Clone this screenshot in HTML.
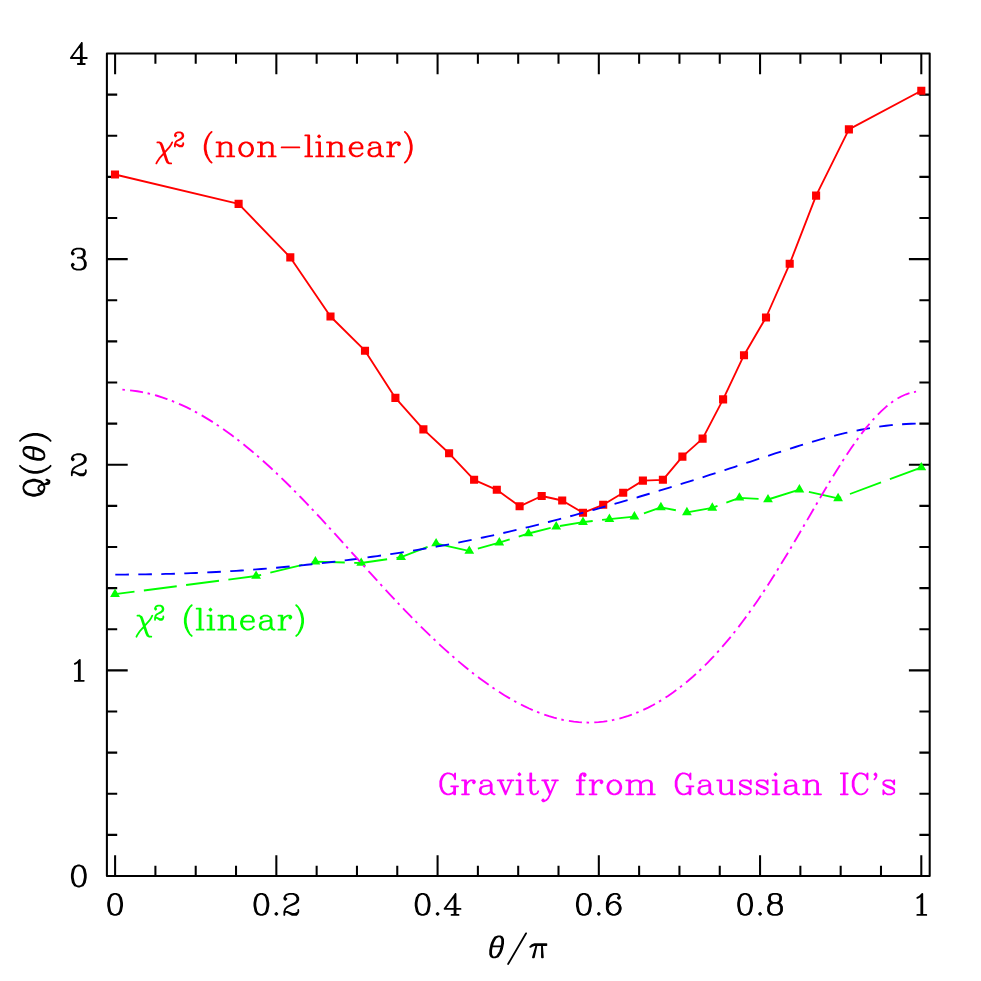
<!DOCTYPE html>
<html lang="en"><head><meta charset="utf-8"><title>Q(θ) versus θ/π</title>
<style>html,body{margin:0;padding:0;background:#fff;font-family:"Liberation Serif",serif}svg{display:block}.ax{stroke:#000;stroke-width:2.05;fill:none;stroke-linecap:butt;stroke-linejoin:miter}.t{fill:none;stroke-width:1.8;stroke-linecap:round;stroke-linejoin:round}.c{fill:none;stroke-width:1.85;stroke-linecap:round;stroke-linejoin:round}.d{fill:none;stroke-width:1.85;stroke-linecap:butt;stroke-linejoin:round}</style></head><body>
<svg width="981" height="981" viewBox="0 0 981 981" role="img" aria-label="Q(θ) versus θ/π">
<rect width="981" height="981" fill="#fff"/>
<rect class="ax" style="stroke-linejoin:round" x="106.9" y="53.5" width="822.8" height="822.5"/>
<path class="ax" d="M115.1 876v-20.8M115.1 53.5v20.8M155.41 876v-10.3M155.41 53.5v10.3M195.72 876v-10.3M195.72 53.5v10.3M236.03 876v-10.3M236.03 53.5v10.3M276.34 876v-20.8M276.34 53.5v20.8M316.65 876v-10.3M316.65 53.5v10.3M356.96 876v-10.3M356.96 53.5v10.3M397.27 876v-10.3M397.27 53.5v10.3M437.58 876v-20.8M437.58 53.5v20.8M477.89 876v-10.3M477.89 53.5v10.3M518.2 876v-10.3M518.2 53.5v10.3M558.51 876v-10.3M558.51 53.5v10.3M598.82 876v-20.8M598.82 53.5v20.8M639.13 876v-10.3M639.13 53.5v10.3M679.44 876v-10.3M679.44 53.5v10.3M719.75 876v-10.3M719.75 53.5v10.3M760.06 876v-20.8M760.06 53.5v20.8M800.37 876v-10.3M800.37 53.5v10.3M840.68 876v-10.3M840.68 53.5v10.3M880.99 876v-10.3M880.99 53.5v10.3M921.3 876v-20.8M921.3 53.5v20.8M106.9 834.88h10.3M929.7 834.88h-10.3M106.9 793.75h10.3M929.7 793.75h-10.3M106.9 752.62h10.3M929.7 752.62h-10.3M106.9 711.5h10.3M929.7 711.5h-10.3M106.9 670.38h20.8M929.7 670.38h-20.8M106.9 629.25h10.3M929.7 629.25h-10.3M106.9 588.12h10.3M929.7 588.12h-10.3M106.9 547h10.3M929.7 547h-10.3M106.9 505.88h10.3M929.7 505.88h-10.3M106.9 464.75h20.8M929.7 464.75h-20.8M106.9 423.62h10.3M929.7 423.62h-10.3M106.9 382.5h10.3M929.7 382.5h-10.3M106.9 341.38h10.3M929.7 341.38h-10.3M106.9 300.25h10.3M929.7 300.25h-10.3M106.9 259.12h20.8M929.7 259.12h-20.8M106.9 218h10.3M929.7 218h-10.3M106.9 176.87h10.3M929.7 176.87h-10.3M106.9 135.75h10.3M929.7 135.75h-10.3M106.9 94.62h10.3M929.7 94.62h-10.3"/>
<path class="c" stroke="#f00" d="M115 174.5L238.6 203.9L290.3 257.4L330.5 316.5L365 350.7L395.4 397.9L423.4 429.4L449.1 453.3L474.1 479.8L496.8 489.8L519.6 506.3L541.7 496L562.2 500.5L583 512.8L603.2 504.8L623.2 492.8L642.9 480.6L662.9 479.8L682.4 456.6L702.6 438.6L723.1 399.4L744 355.2L766 317.5L789.7 263.8L816.1 195.6L848.9 129.4L921.3 90.7"/>
<path fill="#f00" d="M110.95 170.45h8.1v8.1h-8.1zM234.55 199.85h8.1v8.1h-8.1zM286.25 253.35h8.1v8.1h-8.1zM326.45 312.45h8.1v8.1h-8.1zM360.95 346.65h8.1v8.1h-8.1zM391.35 393.85h8.1v8.1h-8.1zM419.35 425.35h8.1v8.1h-8.1zM445.05 449.25h8.1v8.1h-8.1zM470.05 475.75h8.1v8.1h-8.1zM492.75 485.75h8.1v8.1h-8.1zM515.55 502.25h8.1v8.1h-8.1zM537.65 491.95h8.1v8.1h-8.1zM558.15 496.45h8.1v8.1h-8.1zM578.95 508.75h8.1v8.1h-8.1zM599.15 500.75h8.1v8.1h-8.1zM619.15 488.75h8.1v8.1h-8.1zM638.85 476.55h8.1v8.1h-8.1zM658.85 475.75h8.1v8.1h-8.1zM678.35 452.55h8.1v8.1h-8.1zM698.55 434.55h8.1v8.1h-8.1zM719.05 395.35h8.1v8.1h-8.1zM739.95 351.15h8.1v8.1h-8.1zM761.95 313.45h8.1v8.1h-8.1zM785.65 259.75h8.1v8.1h-8.1zM812.05 191.55h8.1v8.1h-8.1zM844.85 125.35h8.1v8.1h-8.1zM917.25 86.65h8.1v8.1h-8.1z"/>
<path class="d" stroke="#0f0" stroke-dasharray="33.15 9.45" stroke-dashoffset="13.5" d="M115 594.2L256.1 576L315.4 561.7L361.2 563L401.1 557.2L436.1 543.5L469.3 551L499.3 542.7L528.5 533.5L556.2 526.6L583 522.1L609.4 519.1L634.4 516.6L660.9 507.4L686.9 512.4L712.3 507.9L739.4 497.8L768 499.5L799.4 489.7L838.1 498.4L921.3 467.5"/>
<path fill="#0f0" d="M115 588.6l4.9 8.4h-9.8zM256.1 570.4l4.9 8.4h-9.8zM315.4 556.1l4.9 8.4h-9.8zM361.2 557.4l4.9 8.4h-9.8zM401.1 551.6l4.9 8.4h-9.8zM436.1 537.9l4.9 8.4h-9.8zM469.3 545.4l4.9 8.4h-9.8zM499.3 537.1l4.9 8.4h-9.8zM528.5 527.9l4.9 8.4h-9.8zM556.2 521l4.9 8.4h-9.8zM583 516.5l4.9 8.4h-9.8zM609.4 513.5l4.9 8.4h-9.8zM634.4 511l4.9 8.4h-9.8zM660.9 501.8l4.9 8.4h-9.8zM686.9 506.8l4.9 8.4h-9.8zM712.3 502.3l4.9 8.4h-9.8zM739.4 492.2l4.9 8.4h-9.8zM768 493.9l4.9 8.4h-9.8zM799.4 484.1l4.9 8.4h-9.8zM838.1 492.8l4.9 8.4h-9.8zM921.3 461.9l4.9 8.4h-9.8z"/>
<path class="d" stroke="#00f" stroke-dasharray="13.6 9.4" d="M115.3 574.57L120.34 574.57L125.38 574.55L130.41 574.52L135.45 574.48L140.49 574.42L145.53 574.35L150.56 574.27L155.6 574.18L160.64 574.07L165.68 573.95L170.71 573.82L175.75 573.68L180.79 573.52L185.83 573.34L190.86 573.16L195.9 572.96L200.94 572.74L205.98 572.51L211.01 572.26L216.05 572L221.09 571.73L226.13 571.44L231.16 571.14L236.2 570.82L241.24 570.48L246.28 570.13L251.31 569.76L256.35 569.38L261.39 568.99L266.43 568.58L271.46 568.15L276.5 567.71L281.54 567.26L286.58 566.79L291.61 566.31L296.65 565.81L301.69 565.3L306.73 564.78L311.76 564.24L316.8 563.69L321.84 563.13L326.88 562.55L331.91 561.96L336.95 561.36L341.99 560.74L347.03 560.12L352.06 559.47L357.1 558.82L362.14 558.15L367.18 557.47L372.21 556.78L377.25 556.07L382.29 555.35L387.33 554.61L392.36 553.86L397.4 553.09L402.44 552.31L407.48 551.52L412.51 550.71L417.55 549.88L422.59 549.03L427.63 548.17L432.66 547.29L437.7 546.39L442.74 545.48L447.78 544.55L452.81 543.59L457.85 542.62L462.89 541.64L467.93 540.63L472.96 539.6L478 538.55L483.04 537.49L488.08 536.4L493.11 535.3L498.15 534.17L503.19 533.03L508.23 531.87L513.26 530.69L518.3 529.5L523.34 528.28L528.38 527.06L533.41 525.81L538.45 524.55L543.49 523.27L548.53 521.98L553.56 520.67L558.6 519.35L563.64 518.02L568.68 516.68L573.71 515.32L578.75 513.95L583.79 512.57L588.83 511.18L593.86 509.78L598.9 508.37L603.94 506.95L608.98 505.52L614.01 504.08L619.05 502.64L624.09 501.18L629.13 499.71L634.16 498.24L639.2 496.76L644.24 495.26L649.28 493.76L654.31 492.25L659.35 490.73L664.39 489.2L669.43 487.66L674.46 486.11L679.5 484.55L684.54 482.98L689.58 481.4L694.61 479.81L699.65 478.21L704.69 476.6L709.73 474.98L714.76 473.35L719.8 471.71L724.84 470.07L729.88 468.41L734.91 466.76L739.95 465.09L744.99 463.43L750.03 461.76L755.06 460.09L760.1 458.42L765.14 456.76L770.18 455.1L775.21 453.45L780.25 451.81L785.29 450.19L790.33 448.58L795.36 447L800.4 445.43L805.44 443.89L810.48 442.39L815.51 440.91L820.55 439.47L825.59 438.08L830.63 436.72L835.66 435.42L840.7 434.16L845.74 432.96L850.78 431.82L855.81 430.74L860.85 429.73L865.89 428.79L870.93 427.91L875.96 427.11L881 426.39L886.04 425.75L891.08 425.18L896.11 424.7L901.15 424.31L906.19 424L911.23 423.78L916.26 423.65L921.3 423.6"/>
<path class="d" stroke="#f0f" stroke-dasharray="13.1 4.67 2.5 5.19" stroke-dashoffset="17.77" d="M122.4 389.68L127.36 390.03L132.32 390.55L137.28 391.25L142.24 392.12L147.2 393.16L152.16 394.37L157.12 395.75L162.08 397.3L167.04 399.01L172 400.88L176.96 402.92L181.92 405.11L186.88 407.45L191.84 409.95L196.8 412.6L201.76 415.39L206.72 418.33L211.68 421.4L216.64 424.62L221.6 427.97L226.56 431.46L231.52 435.07L236.49 438.81L241.45 442.68L246.41 446.66L251.37 450.77L256.33 454.99L261.29 459.32L266.25 463.76L271.21 468.3L276.17 472.95L281.13 477.69L286.09 482.52L291.05 487.44L296.01 492.44L300.97 497.52L305.93 502.67L310.89 507.89L315.85 513.16L320.81 518.49L325.77 523.87L330.73 529.28L335.69 534.73L340.65 540.21L345.61 545.7L350.57 551.21L355.53 556.72L360.5 562.23L365.46 567.73L370.42 573.21L375.38 578.67L380.34 584.1L385.3 589.5L390.26 594.85L395.22 600.15L400.18 605.4L405.14 610.59L410.1 615.71L415.06 620.76L420.02 625.74L424.98 630.64L429.94 635.46L434.9 640.19L439.86 644.82L444.82 649.37L449.78 653.81L454.74 658.15L459.7 662.39L464.66 666.52L469.62 670.53L474.58 674.43L479.54 678.21L484.51 681.86L489.47 685.39L494.43 688.78L499.39 692.04L504.35 695.16L509.31 698.13L514.27 700.96L519.23 703.63L524.19 706.15L529.15 708.5L534.11 710.68L539.07 712.7L544.03 714.53L548.99 716.19L553.95 717.67L558.91 718.95L563.87 720.05L568.83 720.95L573.79 721.65L578.75 722.15L583.71 722.45L588.67 722.55L593.63 722.44L598.59 722.13L603.55 721.61L608.52 720.88L613.48 719.94L618.44 718.8L623.4 717.44L628.36 715.88L633.32 714.11L638.28 712.14L643.24 709.96L648.2 707.57L653.16 704.98L658.12 702.18L663.08 699.17L668.04 695.96L673 692.54L677.96 688.91L682.92 685.06L687.88 681.01L692.84 676.74L697.8 672.25L702.76 667.54L707.72 662.61L712.68 657.46L717.64 652.08L722.6 646.48L727.56 640.65L732.52 634.59L737.49 628.31L742.45 621.8L747.41 615.07L752.37 608.12L757.33 600.96L762.29 593.6L767.25 586.05L772.21 578.31L777.17 570.41L782.13 562.35L787.09 554.17L792.05 545.86L797.01 537.47L801.97 529.01L806.93 520.51L811.89 512L816.85 503.51L821.81 495.08L826.77 486.73L831.73 478.5L836.69 470.43L841.65 462.56L846.61 454.92L851.57 447.55L856.53 440.49L861.5 433.77L866.46 427.44L871.42 421.53L876.38 416.06L881.34 411.07L886.3 406.59L891.26 402.65L896.22 399.27L901.18 396.47L906.14 394.26L911.1 392.67L916.06 391.69"/>
<g transform="translate(115.1 905.9)" aria-label="0"><title>0</title><path class="t" stroke="#000" d="M-1 -11.98L-3.99 -10.98L-5.99 -7.98L-6.99 -2.99L-6.99 0L-5.99 4.99L-3.99 7.98L-1 8.98L1 8.98L3.99 7.98L5.99 4.99L6.99 0L6.99 -2.99L5.99 -7.98L3.99 -10.98L1 -11.98L-1 -11.98M-1 -11.98L-2.99 -10.98L-3.99 -9.98L-4.99 -7.98L-5.99 -2.99L-5.99 0L-4.99 4.99L-3.99 6.99L-2.99 7.98L-1 8.98M1 8.98L2.99 7.98L3.99 6.99L4.99 4.99L5.99 0L5.99 -2.99L4.99 -7.98L3.99 -9.98L2.99 -10.98L1 -11.98"/></g>
<g transform="translate(276.34 905.9)" aria-label="0.2"><title>0.2</title><path class="t" stroke="#000" d="M-15.97 -11.98L-18.96 -10.98L-20.96 -7.98L-21.96 -2.99L-21.96 0L-20.96 4.99L-18.96 7.98L-15.97 8.98L-13.97 8.98L-10.98 7.98L-8.98 4.99L-7.98 0L-7.98 -2.99L-8.98 -7.98L-10.98 -10.98L-13.97 -11.98L-15.97 -11.98M-15.97 -11.98L-17.96 -10.98L-18.96 -9.98L-19.96 -7.98L-20.96 -2.99L-20.96 0L-19.96 4.99L-18.96 6.99L-17.96 7.98L-15.97 8.98M-13.97 8.98L-11.98 7.98L-10.98 6.99L-9.98 4.99L-8.98 0L-8.98 -2.99L-9.98 -7.98L-10.98 -9.98L-11.98 -10.98L-13.97 -11.98M0 6.99L-1 7.98L0 8.98L1 7.98L0 6.99M8.98 -7.98L9.98 -6.99L8.98 -5.99L7.98 -6.99L7.98 -7.98L8.98 -9.98L9.98 -10.98L12.97 -11.98L16.97 -11.98L19.96 -10.98L20.96 -9.98L21.96 -7.98L21.96 -5.99L20.96 -3.99L17.96 -2L12.97 0L10.98 1L8.98 2.99L7.98 5.99L7.98 8.98M16.97 -11.98L18.96 -10.98L19.96 -9.98L20.96 -7.98L20.96 -5.99L19.96 -3.99L16.97 -2L12.97 0M7.98 6.99L8.98 5.99L10.98 5.99L15.97 7.98L18.96 7.98L20.96 6.99L21.96 5.99M10.98 5.99L15.97 8.98L19.96 8.98L20.96 7.98L21.96 5.99L21.96 3.99"/></g>
<g transform="translate(437.58 905.9)" aria-label="0.4"><title>0.4</title><path class="t" stroke="#000" d="M-15.97 -11.98L-18.96 -10.98L-20.96 -7.98L-21.96 -2.99L-21.96 0L-20.96 4.99L-18.96 7.98L-15.97 8.98L-13.97 8.98L-10.98 7.98L-8.98 4.99L-7.98 0L-7.98 -2.99L-8.98 -7.98L-10.98 -10.98L-13.97 -11.98L-15.97 -11.98M-15.97 -11.98L-17.96 -10.98L-18.96 -9.98L-19.96 -7.98L-20.96 -2.99L-20.96 0L-19.96 4.99L-18.96 6.99L-17.96 7.98L-15.97 8.98M-13.97 8.98L-11.98 7.98L-10.98 6.99L-9.98 4.99L-8.98 0L-8.98 -2.99L-9.98 -7.98L-10.98 -9.98L-11.98 -10.98L-13.97 -11.98M0 6.99L-1 7.98L0 8.98L1 7.98L0 6.99M16.97 -9.98L16.97 8.98M17.96 -11.98L17.96 8.98M17.96 -11.98L6.99 2.99L22.95 2.99M13.97 8.98L20.96 8.98"/></g>
<g transform="translate(598.82 905.9)" aria-label="0.6"><title>0.6</title><path class="t" stroke="#000" d="M-15.97 -11.98L-18.96 -10.98L-20.96 -7.98L-21.96 -2.99L-21.96 0L-20.96 4.99L-18.96 7.98L-15.97 8.98L-13.97 8.98L-10.98 7.98L-8.98 4.99L-7.98 0L-7.98 -2.99L-8.98 -7.98L-10.98 -10.98L-13.97 -11.98L-15.97 -11.98M-15.97 -11.98L-17.96 -10.98L-18.96 -9.98L-19.96 -7.98L-20.96 -2.99L-20.96 0L-19.96 4.99L-18.96 6.99L-17.96 7.98L-15.97 8.98M-13.97 8.98L-11.98 7.98L-10.98 6.99L-9.98 4.99L-8.98 0L-8.98 -2.99L-9.98 -7.98L-10.98 -9.98L-11.98 -10.98L-13.97 -11.98M0 6.99L-1 7.98L0 8.98L1 7.98L0 6.99M19.96 -8.98L18.96 -7.98L19.96 -6.99L20.96 -7.98L20.96 -8.98L19.96 -10.98L17.96 -11.98L14.97 -11.98L11.98 -10.98L9.98 -8.98L8.98 -6.99L7.98 -2.99L7.98 2.99L8.98 5.99L10.98 7.98L13.97 8.98L15.97 8.98L18.96 7.98L20.96 5.99L21.96 2.99L21.96 2L20.96 -1L18.96 -2.99L15.97 -3.99L14.97 -3.99L11.98 -2.99L9.98 -1L8.98 2M14.97 -11.98L12.97 -10.98L10.98 -8.98L9.98 -6.99L8.98 -2.99L8.98 2.99L9.98 5.99L11.98 7.98L13.97 8.98M15.97 8.98L17.96 7.98L19.96 5.99L20.96 2.99L20.96 2L19.96 -1L17.96 -2.99L15.97 -3.99"/></g>
<g transform="translate(760.06 905.9)" aria-label="0.8"><title>0.8</title><path class="t" stroke="#000" d="M-15.97 -11.98L-18.96 -10.98L-20.96 -7.98L-21.96 -2.99L-21.96 0L-20.96 4.99L-18.96 7.98L-15.97 8.98L-13.97 8.98L-10.98 7.98L-8.98 4.99L-7.98 0L-7.98 -2.99L-8.98 -7.98L-10.98 -10.98L-13.97 -11.98L-15.97 -11.98M-15.97 -11.98L-17.96 -10.98L-18.96 -9.98L-19.96 -7.98L-20.96 -2.99L-20.96 0L-19.96 4.99L-18.96 6.99L-17.96 7.98L-15.97 8.98M-13.97 8.98L-11.98 7.98L-10.98 6.99L-9.98 4.99L-8.98 0L-8.98 -2.99L-9.98 -7.98L-10.98 -9.98L-11.98 -10.98L-13.97 -11.98M0 6.99L-1 7.98L0 8.98L1 7.98L0 6.99M12.97 -11.98L9.98 -10.98L8.98 -8.98L8.98 -5.99L9.98 -3.99L12.97 -2.99L16.97 -2.99L19.96 -3.99L20.96 -5.99L20.96 -8.98L19.96 -10.98L16.97 -11.98L12.97 -11.98M12.97 -11.98L10.98 -10.98L9.98 -8.98L9.98 -5.99L10.98 -3.99L12.97 -2.99M16.97 -2.99L18.96 -3.99L19.96 -5.99L19.96 -8.98L18.96 -10.98L16.97 -11.98M12.97 -2.99L9.98 -2L8.98 -1L7.98 1L7.98 4.99L8.98 6.99L9.98 7.98L12.97 8.98L16.97 8.98L19.96 7.98L20.96 6.99L21.96 4.99L21.96 1L20.96 -1L19.96 -2L16.97 -2.99M12.97 -2.99L10.98 -2L9.98 -1L8.98 1L8.98 4.99L9.98 6.99L10.98 7.98L12.97 8.98M16.97 8.98L18.96 7.98L19.96 6.99L20.96 4.99L20.96 1L19.96 -1L18.96 -2L16.97 -2.99"/></g>
<g transform="translate(921.3 905.9)" aria-label="1"><title>1</title><path class="t" stroke="#000" d="M-3.99 -7.98L-2 -8.98L1 -11.98L1 8.98M0 -10.98L0 8.98M-3.99 8.98L4.99 8.98"/></g>
<g transform="translate(88.8 877.5)" aria-label="0"><title>0</title><path class="t" stroke="#000" d="M-10.98 -11.98L-13.97 -10.98L-15.97 -7.98L-16.97 -2.99L-16.97 0L-15.97 4.99L-13.97 7.98L-10.98 8.98L-8.98 8.98L-5.99 7.98L-3.99 4.99L-2.99 0L-2.99 -2.99L-3.99 -7.98L-5.99 -10.98L-8.98 -11.98L-10.98 -11.98M-10.98 -11.98L-12.97 -10.98L-13.97 -9.98L-14.97 -7.98L-15.97 -2.99L-15.97 0L-14.97 4.99L-13.97 6.99L-12.97 7.98L-10.98 8.98M-8.98 8.98L-6.99 7.98L-5.99 6.99L-4.99 4.99L-3.99 0L-3.99 -2.99L-4.99 -7.98L-5.99 -9.98L-6.99 -10.98L-8.98 -11.98"/></g>
<g transform="translate(88.8 671.88)" aria-label="1"><title>1</title><path class="t" stroke="#000" d="M-13.97 -7.98L-11.98 -8.98L-8.98 -11.98L-8.98 8.98M-9.98 -10.98L-9.98 8.98M-13.97 8.98L-4.99 8.98"/></g>
<g transform="translate(88.8 466.25)" aria-label="2"><title>2</title><path class="t" stroke="#000" d="M-15.97 -7.98L-14.97 -6.99L-15.97 -5.99L-16.97 -6.99L-16.97 -7.98L-15.97 -9.98L-14.97 -10.98L-11.98 -11.98L-7.98 -11.98L-4.99 -10.98L-3.99 -9.98L-2.99 -7.98L-2.99 -5.99L-3.99 -3.99L-6.99 -2L-11.98 0L-13.97 1L-15.97 2.99L-16.97 5.99L-16.97 8.98M-7.98 -11.98L-5.99 -10.98L-4.99 -9.98L-3.99 -7.98L-3.99 -5.99L-4.99 -3.99L-7.98 -2L-11.98 0M-16.97 6.99L-15.97 5.99L-13.97 5.99L-8.98 7.98L-5.99 7.98L-3.99 6.99L-2.99 5.99M-13.97 5.99L-8.98 8.98L-4.99 8.98L-3.99 7.98L-2.99 5.99L-2.99 3.99"/></g>
<g transform="translate(88.8 260.62)" aria-label="3"><title>3</title><path class="t" stroke="#000" d="M-15.97 -7.98L-14.97 -6.99L-15.97 -5.99L-16.97 -6.99L-16.97 -7.98L-15.97 -9.98L-14.97 -10.98L-11.98 -11.98L-7.98 -11.98L-4.99 -10.98L-3.99 -8.98L-3.99 -5.99L-4.99 -3.99L-7.98 -2.99L-10.98 -2.99M-7.98 -11.98L-5.99 -10.98L-4.99 -8.98L-4.99 -5.99L-5.99 -3.99L-7.98 -2.99M-7.98 -2.99L-5.99 -2L-3.99 0L-2.99 2L-2.99 4.99L-3.99 6.99L-4.99 7.98L-7.98 8.98L-11.98 8.98L-14.97 7.98L-15.97 6.99L-16.97 4.99L-16.97 3.99L-15.97 2.99L-14.97 3.99L-15.97 4.99M-4.99 -1L-3.99 2L-3.99 4.99L-4.99 6.99L-5.99 7.98L-7.98 8.98"/></g>
<g transform="translate(88.8 55)" aria-label="4"><title>4</title><path class="t" stroke="#000" d="M-7.98 -9.98L-7.98 8.98M-6.99 -11.98L-6.99 8.98M-6.99 -11.98L-17.96 2.99L-2 2.99M-10.98 8.98L-3.99 8.98"/></g>
<g transform="translate(518.6 948.35)" aria-label="θ/π"><title>θ/π</title><path class="t" stroke="#000" d="M-20.46 -11.98L-23.45 -10.98L-25.45 -7.98L-26.45 -5.99L-27.45 -2.99L-28.44 2L-28.44 5.99L-27.45 7.98L-25.45 8.98L-23.45 8.98L-20.46 7.98L-18.46 4.99L-17.46 2.99L-16.47 0L-15.47 -4.99L-15.47 -8.98L-16.47 -10.98L-18.46 -11.98L-20.46 -11.98M-20.46 -11.98L-22.45 -10.98L-24.45 -7.98L-25.45 -5.99L-26.45 -2.99L-27.45 2L-27.45 5.99L-26.45 7.98L-25.45 8.98M-23.45 8.98L-21.46 7.98L-19.46 4.99L-18.46 2.99L-17.46 0L-16.47 -4.99L-16.47 -8.98L-17.46 -10.98L-18.46 -11.98M-26.45 -2L-17.46 -2M7.49 -15.03L-10.48 15.63M17.96 -3.34L14.37 8.98M17.96 -3.34L15.27 8.98M23.35 -3.34L23.35 8.98M23.35 -3.34L24.25 8.98M11.68 -1.45L13.47 -3.34L16.17 -4.29L27.84 -4.29M11.68 -1.45L13.47 -2.4L16.17 -3.34L27.84 -3.34"/></g>
<g transform="translate(35.4 464.3) rotate(-90)" aria-label="Q(θ)"><title>Q(θ)</title><path class="t" stroke="#000" d="M-24.45 -11.98L-27.45 -10.98L-29.44 -8.98L-30.44 -6.99L-31.44 -2.99L-31.44 0L-30.44 3.99L-29.44 5.99L-27.45 7.98L-24.45 8.98L-22.45 8.98L-19.46 7.98L-17.46 5.99L-16.47 3.99L-15.47 0L-15.47 -2.99L-16.47 -6.99L-17.46 -8.98L-19.46 -10.98L-22.45 -11.98L-24.45 -11.98M-24.45 -11.98L-26.45 -10.98L-28.44 -8.98L-29.44 -6.99L-30.44 -2.99L-30.44 0L-29.44 3.99L-28.44 5.99L-26.45 7.98L-24.45 8.98M-22.45 8.98L-20.46 7.98L-18.46 5.99L-17.46 3.99L-16.47 0L-16.47 -2.99L-17.46 -6.99L-18.46 -8.98L-20.46 -10.98L-22.45 -11.98M-27.45 6.99L-27.45 5.99L-26.45 3.99L-24.45 2.99L-23.45 2.99L-21.46 3.99L-20.46 5.99L-19.46 12.97L-18.46 13.97L-16.47 13.97L-15.47 11.98L-15.47 10.98M-20.46 5.99L-19.46 9.98L-18.46 11.98L-17.46 12.97L-16.47 12.97L-15.47 11.98M-1.5 -15.43L-3.49 -13.51L-5.49 -10.64L-7.49 -6.81L-8.48 -2.02L-8.48 1.82L-7.49 6.61L-5.49 10.44L-3.49 13.31L-1.5 15.23M-3.49 -13.51L-5.49 -9.68L-6.49 -6.81L-7.49 -2.02L-7.49 1.82L-6.49 6.61L-5.49 9.48L-3.49 13.31M12.47 -11.98L9.48 -10.98L7.49 -7.98L6.49 -5.99L5.49 -2.99L4.49 2L4.49 5.99L5.49 7.98L7.49 8.98L9.48 8.98L12.47 7.98L14.47 4.99L15.47 2.99L16.47 0L17.46 -4.99L17.46 -8.98L16.47 -10.98L14.47 -11.98L12.47 -11.98M12.47 -11.98L10.48 -10.98L8.48 -7.98L7.49 -5.99L6.49 -2.99L5.49 2L5.49 5.99L6.49 7.98L7.49 8.98M9.48 8.98L11.48 7.98L13.47 4.99L14.47 2.99L15.47 0L16.47 -4.99L16.47 -8.98L15.47 -10.98L14.47 -11.98M6.49 -2L15.47 -2M23.45 -15.43L25.45 -13.51L27.45 -10.64L29.44 -6.81L30.44 -2.02L30.44 1.82L29.44 6.61L27.45 10.44L25.45 13.31L23.45 15.23M25.45 -13.51L27.45 -9.68L28.44 -6.81L29.44 -2.02L29.44 1.82L28.44 6.61L27.45 9.48L25.45 13.31"/></g>
<g transform="translate(155.4 147.4)" aria-label="χ² (non−linear)"><title>χ² (non−linear)</title><path class="t" stroke="#f00" d="M1.97 -5L3.94 -5L5.92 -4L6.9 -2L11.83 13L12.82 15L13.8 16M3.94 -5L4.93 -4L5.92 -2L10.85 13L11.83 15L13.8 16L15.78 16M16.76 -5L15.78 -3L13.8 0L3.94 11L1.97 14L0.99 16M20.11 -12.37L20.71 -11.7L20.11 -11.02L19.52 -11.7L19.52 -12.37L20.11 -13.71L20.71 -14.38L22.48 -15.06L24.85 -15.06L26.62 -14.38L27.21 -13.71L27.81 -12.37L27.81 -11.02L27.21 -9.68L25.44 -8.34L22.48 -6.99L21.3 -6.32L20.11 -4.98L19.52 -2.96L19.52 -0.94M24.85 -15.06L26.03 -14.38L26.62 -13.71L27.21 -12.37L27.21 -11.02L26.62 -9.68L24.85 -8.34L22.48 -6.99M19.52 -2.29L20.11 -2.96L21.3 -2.96L24.26 -1.62L26.03 -1.62L27.21 -2.29L27.81 -2.96M21.3 -2.96L24.26 -0.94L26.62 -0.94L27.21 -1.62L27.81 -2.96L27.81 -4.3M56.2 -15.46L54.23 -13.54L52.26 -10.66L50.29 -6.82L49.3 -2.02L49.3 1.82L50.29 6.62L52.26 10.46L54.23 13.34L56.2 15.26M54.23 -13.54L52.26 -9.7L51.27 -6.82L50.29 -2.02L50.29 1.82L51.27 6.62L52.26 9.5L54.23 13.34M64.09 -5L64.09 9M65.08 -5L65.08 9M65.08 -2L67.05 -4L70.01 -5L71.98 -5L74.94 -4L75.92 -2L75.92 9M71.98 -5L73.95 -4L74.94 -2L74.94 9M61.13 -5L65.08 -5M61.13 9L68.03 9M71.98 9L78.88 9M89.73 -5L86.77 -4L84.8 -2L83.81 1L83.81 3L84.8 6L86.77 8L89.73 9L91.7 9L94.66 8L96.63 6L97.61 3L97.61 1L96.63 -2L94.66 -4L91.7 -5L89.73 -5M89.73 -5L87.75 -4L85.78 -2L84.8 1L84.8 3L85.78 6L87.75 8L89.73 9M91.7 9L93.67 8L95.64 6L96.63 3L96.63 1L95.64 -2L93.67 -4L91.7 -5M105.5 -5L105.5 9M106.49 -5L106.49 9M106.49 -2L108.46 -4L111.42 -5L113.39 -5L116.35 -4L117.33 -2L117.33 9M113.39 -5L115.36 -4L116.35 -2L116.35 9M102.54 -5L106.49 -5M102.54 9L109.45 9M113.39 9L120.29 9M126.21 0L143.96 0M152.83 -12L152.83 9M153.82 -12L153.82 9M149.87 -12L153.82 -12M149.87 9L156.77 9M163.68 -12L162.69 -11L163.68 -10L164.66 -11L163.68 -12M163.68 -5L163.68 9M164.66 -5L164.66 9M160.72 -5L164.66 -5M160.72 9L167.62 9M174.52 -5L174.52 9M175.51 -5L175.51 9M175.51 -2L177.48 -4L180.44 -5L182.41 -5L185.37 -4L186.35 -2L186.35 9M182.41 -5L184.38 -4L185.37 -2L185.37 9M171.56 -5L175.51 -5M171.56 9L178.47 9M182.41 9L189.31 9M195.23 1L207.06 1L207.06 -1L206.07 -3L205.09 -4L203.12 -5L200.16 -5L197.2 -4L195.23 -2L194.24 1L194.24 3L195.23 6L197.2 8L200.16 9L202.13 9L205.09 8L207.06 6M206.07 1L206.07 -2L205.09 -4M200.16 -5L198.19 -4L196.21 -2L195.23 1L195.23 3L196.21 6L198.19 8L200.16 9M214.95 -3L214.95 -2L213.96 -2L213.96 -3L214.95 -4L216.92 -5L220.86 -5L222.84 -4L223.82 -3L224.81 -1L224.81 6L225.79 8L226.78 9M223.82 -3L223.82 6L224.81 8L226.78 9L227.77 9M223.82 -1L222.84 0L216.92 1L213.96 2L212.98 4L212.98 6L213.96 8L216.92 9L219.88 9L221.85 8L223.82 6M216.92 1L214.95 2L213.96 4L213.96 6L214.95 8L216.92 9M234.67 -5L234.67 9M235.65 -5L235.65 9M235.65 1L236.64 -2L238.61 -4L240.58 -5L243.54 -5L244.53 -4L244.53 -3L243.54 -2L242.56 -3L243.54 -4M231.71 -5L235.65 -5M231.71 9L238.61 9M249.46 -15.46L251.43 -13.54L253.4 -10.66L255.37 -6.82L256.36 -2.02L256.36 1.82L255.37 6.62L253.4 10.46L251.43 13.34L249.46 15.26M251.43 -13.54L253.4 -9.7L254.39 -6.82L255.37 -2.02L255.37 1.82L254.39 6.62L253.4 9.5L251.43 13.34"/></g>
<g transform="translate(135.5 620.7)" aria-label="χ² (linear)"><title>χ² (linear)</title><path class="t" stroke="#0f0" d="M1.97 -5L3.94 -5L5.92 -4L6.9 -2L11.83 13L12.82 15L13.8 16M3.94 -5L4.93 -4L5.92 -2L10.85 13L11.83 15L13.8 16L15.78 16M16.76 -5L15.78 -3L13.8 0L3.94 11L1.97 14L0.99 16M20.11 -12.37L20.71 -11.7L20.11 -11.02L19.52 -11.7L19.52 -12.37L20.11 -13.71L20.71 -14.38L22.48 -15.06L24.85 -15.06L26.62 -14.38L27.21 -13.71L27.81 -12.37L27.81 -11.02L27.21 -9.68L25.44 -8.34L22.48 -6.99L21.3 -6.32L20.11 -4.98L19.52 -2.96L19.52 -0.94M24.85 -15.06L26.03 -14.38L26.62 -13.71L27.21 -12.37L27.21 -11.02L26.62 -9.68L24.85 -8.34L22.48 -6.99M19.52 -2.29L20.11 -2.96L21.3 -2.96L24.26 -1.62L26.03 -1.62L27.21 -2.29L27.81 -2.96M21.3 -2.96L24.26 -0.94L26.62 -0.94L27.21 -1.62L27.81 -2.96L27.81 -4.3M56.2 -15.46L54.23 -13.54L52.26 -10.66L50.29 -6.82L49.3 -2.02L49.3 1.82L50.29 6.62L52.26 10.46L54.23 13.34L56.2 15.26M54.23 -13.54L52.26 -9.7L51.27 -6.82L50.29 -2.02L50.29 1.82L51.27 6.62L52.26 9.5L54.23 13.34M64.09 -12L64.09 9M65.08 -12L65.08 9M61.13 -12L65.08 -12M61.13 9L68.03 9M74.94 -12L73.95 -11L74.94 -10L75.92 -11L74.94 -12M74.94 -5L74.94 9M75.92 -5L75.92 9M71.98 -5L75.92 -5M71.98 9L78.88 9M85.78 -5L85.78 9M86.77 -5L86.77 9M86.77 -2L88.74 -4L91.7 -5L93.67 -5L96.63 -4L97.61 -2L97.61 9M93.67 -5L95.64 -4L96.63 -2L96.63 9M82.82 -5L86.77 -5M82.82 9L89.73 9M93.67 9L100.57 9M106.49 1L118.32 1L118.32 -1L117.33 -3L116.35 -4L114.38 -5L111.42 -5L108.46 -4L106.49 -2L105.5 1L105.5 3L106.49 6L108.46 8L111.42 9L113.39 9L116.35 8L118.32 6M117.33 1L117.33 -2L116.35 -4M111.42 -5L109.45 -4L107.47 -2L106.49 1L106.49 3L107.47 6L109.45 8L111.42 9M126.21 -3L126.21 -2L125.22 -2L125.22 -3L126.21 -4L128.18 -5L132.12 -5L134.1 -4L135.08 -3L136.07 -1L136.07 6L137.05 8L138.04 9M135.08 -3L135.08 6L136.07 8L138.04 9L139.03 9M135.08 -1L134.1 0L128.18 1L125.22 2L124.24 4L124.24 6L125.22 8L128.18 9L131.14 9L133.11 8L135.08 6M128.18 1L126.21 2L125.22 4L125.22 6L126.21 8L128.18 9M145.93 -5L145.93 9M146.91 -5L146.91 9M146.91 1L147.9 -2L149.87 -4L151.84 -5L154.8 -5L155.79 -4L155.79 -3L154.8 -2L153.82 -3L154.8 -4M142.97 -5L146.91 -5M142.97 9L149.87 9M160.72 -15.46L162.69 -13.54L164.66 -10.66L166.63 -6.82L167.62 -2.02L167.62 1.82L166.63 6.62L164.66 10.46L162.69 13.34L160.72 15.26M162.69 -13.54L164.66 -9.7L165.65 -6.82L166.63 -2.02L166.63 1.82L165.65 6.62L164.66 9.5L162.69 13.34"/></g>
<g transform="translate(437.3 785.3)" aria-label="Gravity from Gaussian IC's"><title>Gravity from Gaussian IC's</title><path class="t" stroke="#f0f" d="M16.81 -9L17.8 -6L17.8 -12L16.81 -9L14.83 -11L11.87 -12L9.89 -12L6.92 -11L4.95 -9L3.96 -7L2.97 -4L2.97 1L3.96 4L4.95 6L6.92 8L9.89 9L11.87 9L14.83 8L16.81 6M9.89 -12L7.91 -11L5.93 -9L4.95 -7L3.96 -4L3.96 1L4.95 4L5.93 6L7.91 8L9.89 9M16.81 1L16.81 9M17.8 1L17.8 9M13.85 1L20.77 1M27.69 -5L27.69 9M28.68 -5L28.68 9M28.68 1L29.67 -2L31.65 -4L33.63 -5L36.59 -5L37.58 -4L37.58 -3L36.59 -2L35.6 -3L36.59 -4M24.73 -5L28.68 -5M24.73 9L31.65 9M44.51 -3L44.51 -2L43.52 -2L43.52 -3L44.51 -4L46.48 -5L50.44 -5L52.42 -4L53.41 -3L54.39 -1L54.39 6L55.38 8L56.37 9M53.41 -3L53.41 6L54.39 8L56.37 9L57.36 9M53.41 -1L52.42 0L46.48 1L43.52 2L42.53 4L42.53 6L43.52 8L46.48 9L49.45 9L51.43 8L53.41 6M46.48 1L44.51 2L43.52 4L43.52 6L44.51 8L46.48 9M62.31 -5L68.24 9M63.3 -5L68.24 7M74.17 -5L68.24 9M60.33 -5L66.26 -5M70.22 -5L76.15 -5M82.09 -12L81.1 -11L82.09 -10L83.08 -11L82.09 -12M82.09 -5L82.09 9M83.08 -5L83.08 9M79.12 -5L83.08 -5M79.12 9L86.04 9M92.97 -12L92.97 5L93.95 8L95.93 9L97.91 9L99.89 8L100.88 6M93.95 -12L93.95 5L94.94 8L95.93 9M90 -5L97.91 -5M106.81 -5L112.75 9M107.8 -5L112.75 7M118.68 -5L112.75 9L110.77 13L108.79 15L106.81 16L105.82 16L104.83 15L105.82 14L106.81 15M104.83 -5L110.77 -5M114.72 -5L120.66 -5M147.36 -11L146.37 -10L147.36 -9L148.35 -10L148.35 -11L147.36 -12L145.38 -12L143.41 -11L142.42 -9L142.42 9M145.38 -12L144.39 -11L143.41 -9L143.41 9M139.45 -5L147.36 -5M139.45 9L146.37 9M155.27 -5L155.27 9M156.26 -5L156.26 9M156.26 1L157.25 -2L159.23 -4L161.21 -5L164.17 -5L165.16 -4L165.16 -3L164.17 -2L163.19 -3L164.17 -4M152.31 -5L156.26 -5M152.31 9L159.23 9M176.04 -5L173.07 -4L171.1 -2L170.11 1L170.11 3L171.1 6L173.07 8L176.04 9L178.02 9L180.99 8L182.97 6L183.95 3L183.95 1L182.97 -2L180.99 -4L178.02 -5L176.04 -5M176.04 -5L174.06 -4L172.09 -2L171.1 1L171.1 3L172.09 6L174.06 8L176.04 9M178.02 9L180 8L181.98 6L182.97 3L182.97 1L181.98 -2L180 -4L178.02 -5M191.87 -5L191.87 9M192.85 -5L192.85 9M192.85 -2L194.83 -4L197.8 -5L199.78 -5L202.75 -4L203.73 -2L203.73 9M199.78 -5L201.76 -4L202.75 -2L202.75 9M203.73 -2L205.71 -4L208.68 -5L210.66 -5L213.62 -4L214.61 -2L214.61 9M210.66 -5L212.63 -4L213.62 -2L213.62 9M188.9 -5L192.85 -5M188.9 9L195.82 9M199.78 9L206.7 9M210.66 9L217.58 9M252.19 -9L253.18 -6L253.18 -12L252.19 -9L250.22 -11L247.25 -12L245.27 -12L242.31 -11L240.33 -9L239.34 -7L238.35 -4L238.35 1L239.34 4L240.33 6L242.31 8L245.27 9L247.25 9L250.22 8L252.19 6M245.27 -12L243.29 -11L241.32 -9L240.33 -7L239.34 -4L239.34 1L240.33 4L241.32 6L243.29 8L245.27 9M252.19 1L252.19 9M253.18 1L253.18 9M249.23 1L256.15 1M263.07 -3L263.07 -2L262.08 -2L262.08 -3L263.07 -4L265.05 -5L269.01 -5L270.99 -4L271.98 -3L272.96 -1L272.96 6L273.95 8L274.94 9M271.98 -3L271.98 6L272.96 8L274.94 9L275.93 9M271.98 -1L270.99 0L265.05 1L262.08 2L261.1 4L261.1 6L262.08 8L265.05 9L268.02 9L270 8L271.98 6M265.05 1L263.07 2L262.08 4L262.08 6L263.07 8L265.05 9M282.85 -5L282.85 6L283.84 8L286.81 9L288.79 9L291.75 8L293.73 6M283.84 -5L283.84 6L284.83 8L286.81 9M293.73 -5L293.73 9M294.72 -5L294.72 9M279.89 -5L283.84 -5M290.77 -5L294.72 -5M293.73 9L297.69 9M312.52 -3L313.51 -5L313.51 -1L312.52 -3L311.54 -4L309.56 -5L305.6 -5L303.62 -4L302.63 -3L302.63 -1L303.62 0L305.6 1L310.55 3L312.52 4L313.51 5M302.63 -2L303.62 -1L305.6 0L310.55 2L312.52 3L313.51 4L313.51 7L312.52 8L310.55 9L306.59 9L304.61 8L303.62 7L302.63 5L302.63 9L303.62 7M329.34 -3L330.33 -5L330.33 -1L329.34 -3L328.35 -4L326.37 -5L322.41 -5L320.44 -4L319.45 -3L319.45 -1L320.44 0L322.41 1L327.36 3L329.34 4L330.33 5M319.45 -2L320.44 -1L322.41 0L327.36 2L329.34 3L330.33 4L330.33 7L329.34 8L327.36 9L323.4 9L321.43 8L320.44 7L319.45 5L319.45 9L320.44 7M338.24 -12L337.25 -11L338.24 -10L339.23 -11L338.24 -12M338.24 -5L338.24 9M339.23 -5L339.23 9M335.27 -5L339.23 -5M335.27 9L342.19 9M349.12 -3L349.12 -2L348.13 -2L348.13 -3L349.12 -4L351.09 -5L355.05 -5L357.03 -4L358.02 -3L359.01 -1L359.01 6L360 8L360.99 9M358.02 -3L358.02 6L359.01 8L360.99 9L361.97 9M358.02 -1L357.03 0L351.09 1L348.13 2L347.14 4L347.14 6L348.13 8L351.09 9L354.06 9L356.04 8L358.02 6M351.09 1L349.12 2L348.13 4L348.13 6L349.12 8L351.09 9M368.9 -5L368.9 9M369.89 -5L369.89 9M369.89 -2L371.86 -4L374.83 -5L376.81 -5L379.78 -4L380.76 -2L380.76 9M376.81 -5L378.79 -4L379.78 -2L379.78 9M365.93 -5L369.89 -5M365.93 9L372.85 9M376.81 9L383.73 9M406.48 -12L406.48 9M407.47 -12L407.47 9M403.51 -12L410.44 -12M403.51 9L410.44 9M429.23 -9L430.21 -6L430.21 -12L429.23 -9L427.25 -11L424.28 -12L422.3 -12L419.34 -11L417.36 -9L416.37 -7L415.38 -4L415.38 1L416.37 4L417.36 6L419.34 8L422.3 9L424.28 9L427.25 8L429.23 6L430.21 4M422.3 -12L420.32 -11L418.35 -9L417.36 -7L416.37 -4L416.37 1L417.36 4L418.35 6L420.32 8L422.3 9M438.13 -10L437.14 -11L438.13 -12L439.12 -11L439.12 -9L438.13 -7L437.14 -6M455.93 -3L456.92 -5L456.92 -1L455.93 -3L454.94 -4L452.96 -5L449.01 -5L447.03 -4L446.04 -3L446.04 -1L447.03 0L449.01 1L453.95 3L455.93 4L456.92 5M446.04 -2L447.03 -1L449.01 0L453.95 2L455.93 3L456.92 4L456.92 7L455.93 8L453.95 9L450 9L448.02 8L447.03 7L446.04 5L446.04 9L447.03 7"/></g>
</svg></body></html>
